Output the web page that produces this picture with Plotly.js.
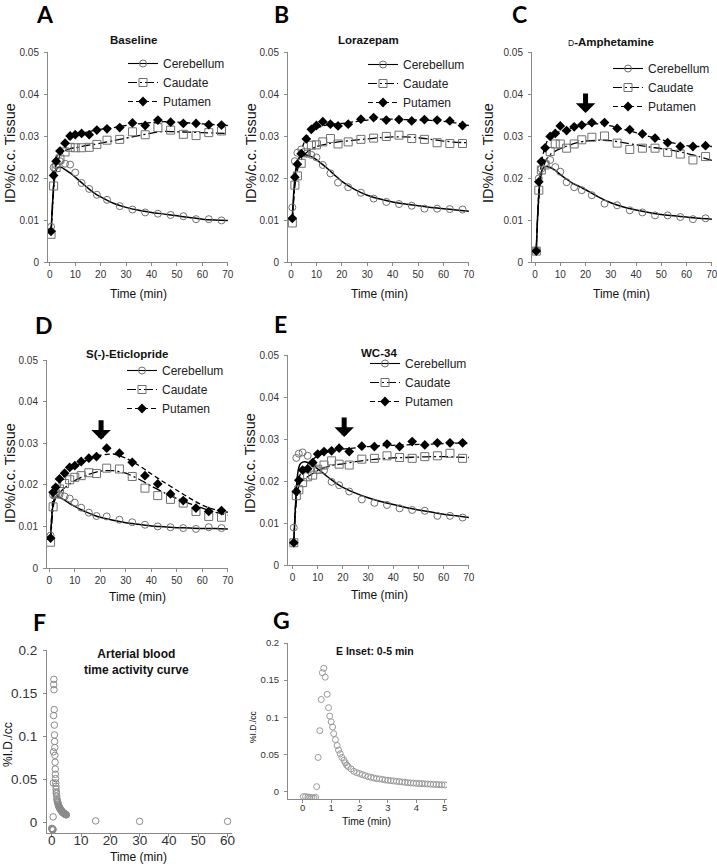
<!DOCTYPE html>
<html><head><meta charset="utf-8">
<script src="https://cdn.plot.ly/plotly-3.0.1.min.js"></script>
<style>html,body{margin:0;padding:0;background:#fff}#chart{width:717px;height:866px}</style>
</head><body><div id="chart"></div>
<script>
// ---------- DATA ----------
// PET frame mid-times (min)
const frameTimes = [0.5, 1.5, 2.5, 4, 6, 8, 10, 12.5, 15.5, 18.5, 22.5, 27.5, 32.5, 37.5, 42.5, 47.5, 52.5, 57.5, 62.5, 67.5];
// model-fit curve sample times (min)
const fitTimes = [0.5, 1, 1.5, 2, 2.5, 3, 4, 5, 6, 8, 10, 12.5, 15, 17.5, 20, 25, 30, 35, 40, 45, 50, 55, 60, 65, 70];

// A: Baseline
const baselineCerebellum = [0.0084, 0.0225, 0.023, 0.024, 0.0234, 0.0232, 0.0213, 0.0188, 0.0174, 0.016, 0.0148, 0.0133, 0.0125, 0.0118, 0.0115, 0.0112, 0.0109, 0.0102, 0.0102, 0.0099];
const baselineCaudate    = [0.0066, 0.0181, 0.0225, 0.0245, 0.0262, 0.0273, 0.0272, 0.0272, 0.0273, 0.028, 0.029, 0.0292, 0.031, 0.0303, 0.032, 0.0314, 0.0304, 0.0301, 0.0308, 0.0312];
const baselinePutamen    = [0.0073, 0.0206, 0.024, 0.0264, 0.0283, 0.03, 0.0303, 0.0306, 0.0303, 0.0314, 0.0317, 0.032, 0.0331, 0.0325, 0.0338, 0.0333, 0.033, 0.033, 0.0327, 0.0326];
const baselineFitCer = [0.007, 0.013, 0.018, 0.0205, 0.0218, 0.0224, 0.0226, 0.0224, 0.022, 0.0212, 0.0202, 0.0189, 0.0176, 0.0164, 0.0155, 0.014, 0.013, 0.0123, 0.0118, 0.0114, 0.011, 0.0106, 0.0102, 0.01, 0.0099];
const baselineFitCau = [0.007, 0.012, 0.017, 0.0205, 0.0225, 0.0238, 0.0252, 0.026, 0.0265, 0.027, 0.0272, 0.0275, 0.0278, 0.028, 0.0283, 0.0289, 0.0295, 0.0301, 0.0307, 0.0311, 0.031, 0.0309, 0.0308, 0.0307, 0.0306];
const baselineFitPut = [0.0073, 0.013, 0.0185, 0.022, 0.0243, 0.0256, 0.0271, 0.028, 0.0287, 0.0296, 0.0302, 0.0306, 0.031, 0.0313, 0.0316, 0.032, 0.0325, 0.0329, 0.0332, 0.0334, 0.0333, 0.0331, 0.0329, 0.0327, 0.0325];

// B: Lorazepam
const lorazCerebellum = [0.013, 0.024, 0.026, 0.0268, 0.0258, 0.0255, 0.0249, 0.0231, 0.0211, 0.0189, 0.0178, 0.0165, 0.0151, 0.0143, 0.0138, 0.0134, 0.0127, 0.0127, 0.0126, 0.0125];
const lorazCaudate    = [0.0093, 0.0183, 0.0205, 0.0235, 0.026, 0.0278, 0.0279, 0.0286, 0.0294, 0.0281, 0.0286, 0.0292, 0.0295, 0.0299, 0.0302, 0.0294, 0.0292, 0.0284, 0.0282, 0.0282];
const lorazPutamen    = [0.0104, 0.0202, 0.0233, 0.0258, 0.0293, 0.0316, 0.0325, 0.0334, 0.0328, 0.0324, 0.0328, 0.034, 0.0344, 0.0338, 0.0339, 0.0336, 0.0339, 0.0338, 0.0336, 0.0325];
const lorazFitCer = [0.0105, 0.016, 0.02, 0.0225, 0.0238, 0.0246, 0.0254, 0.0256, 0.0255, 0.0251, 0.0244, 0.0232, 0.0219, 0.0205, 0.0192, 0.0173, 0.0159, 0.015, 0.0143, 0.0138, 0.0134, 0.013, 0.0127, 0.0124, 0.0121];
const lorazFitCau = [0.0095, 0.0145, 0.018, 0.0203, 0.0218, 0.0229, 0.0243, 0.0253, 0.026, 0.0269, 0.0275, 0.0279, 0.0282, 0.0285, 0.0287, 0.029, 0.0293, 0.0296, 0.0298, 0.0298, 0.0296, 0.0292, 0.0288, 0.0285, 0.0284];
const lorazFitPut = [0.0105, 0.015, 0.019, 0.0215, 0.0232, 0.0245, 0.0265, 0.0282, 0.0295, 0.031, 0.0318, 0.0324, 0.0327, 0.0329, 0.033, 0.0334, 0.0338, 0.034, 0.034, 0.0339, 0.0338, 0.0337, 0.0335, 0.0331, 0.0325];

// C: D-Amphetamine
const amphCerebellum = [0.0028, 0.0199, 0.0222, 0.0236, 0.0243, 0.0226, 0.0215, 0.019, 0.0178, 0.0171, 0.0159, 0.0139, 0.0135, 0.0123, 0.0118, 0.0111, 0.0111, 0.0107, 0.0102, 0.0104];
const amphCaudate    = [0.0026, 0.0171, 0.0219, 0.0231, 0.0263, 0.0281, 0.0281, 0.0271, 0.0281, 0.0291, 0.0297, 0.03, 0.0283, 0.0268, 0.0271, 0.0271, 0.0261, 0.0257, 0.0243, 0.0251];
const amphPutamen    = [0.0026, 0.0191, 0.0239, 0.0272, 0.0299, 0.0306, 0.0324, 0.0313, 0.0322, 0.0326, 0.0332, 0.0332, 0.0318, 0.0315, 0.0305, 0.0295, 0.0284, 0.0275, 0.0275, 0.0277];
const amphFitCer = [0.003, 0.0105, 0.016, 0.0195, 0.0213, 0.0222, 0.0227, 0.0227, 0.0225, 0.0218, 0.0208, 0.0197, 0.0187, 0.018, 0.0172, 0.0155, 0.0141, 0.0131, 0.0124, 0.0118, 0.0113, 0.011, 0.0107, 0.0104, 0.0102];
const amphFitCau = [0.003, 0.01, 0.015, 0.0185, 0.0205, 0.022, 0.0238, 0.0249, 0.0256, 0.0264, 0.027, 0.0276, 0.0281, 0.0285, 0.0288, 0.029, 0.0289, 0.0284, 0.0279, 0.0274, 0.027, 0.0265, 0.0259, 0.0251, 0.0242];
const amphFitPut = [0.003, 0.011, 0.017, 0.021, 0.0235, 0.0252, 0.0275, 0.029, 0.0298, 0.0306, 0.0311, 0.0316, 0.032, 0.0325, 0.0328, 0.0329, 0.0324, 0.0316, 0.0308, 0.0299, 0.0291, 0.0283, 0.0277, 0.0275, 0.0275];

// D: S(-)-Eticlopride
const eticCerebellum = [0.0078, 0.0175, 0.018, 0.0176, 0.0172, 0.0167, 0.0157, 0.0145, 0.0133, 0.0125, 0.0124, 0.0116, 0.011, 0.0104, 0.01, 0.0098, 0.0096, 0.0094, 0.0098, 0.0096];
const eticCaudate    = [0.0062, 0.0147, 0.0178, 0.019, 0.0203, 0.0212, 0.0218, 0.0222, 0.0229, 0.0227, 0.024, 0.0238, 0.022, 0.0192, 0.0174, 0.0165, 0.0156, 0.0136, 0.0124, 0.0122];
const eticPutamen    = [0.0072, 0.0182, 0.0194, 0.0214, 0.0228, 0.0242, 0.0246, 0.0256, 0.0264, 0.0268, 0.0288, 0.0276, 0.0254, 0.0222, 0.0202, 0.0178, 0.0162, 0.0144, 0.0136, 0.0138];
const eticFitCer = [0.0075, 0.0125, 0.0155, 0.0167, 0.017, 0.0171, 0.017, 0.0167, 0.0163, 0.0155, 0.0148, 0.014, 0.0133, 0.0127, 0.0122, 0.0115, 0.0109, 0.0105, 0.0101, 0.0099, 0.0097, 0.0096, 0.0095, 0.0095, 0.0094];
const eticFitCau = [0.0065, 0.011, 0.0145, 0.016, 0.0167, 0.0172, 0.018, 0.0187, 0.0193, 0.0202, 0.021, 0.0218, 0.0224, 0.0229, 0.0233, 0.0234, 0.0228, 0.0214, 0.0197, 0.0181, 0.0167, 0.0155, 0.0144, 0.0134, 0.0127];
const eticFitPut = [0.0072, 0.0135, 0.0175, 0.0185, 0.0192, 0.0198, 0.0207, 0.0215, 0.0222, 0.0234, 0.0243, 0.0252, 0.026, 0.0266, 0.0271, 0.0274, 0.0264, 0.0247, 0.0226, 0.0206, 0.0187, 0.0168, 0.0151, 0.014, 0.0134];

// E: WC-34
const wcCerebellum = [0.0089, 0.0255, 0.0265, 0.0268, 0.026, 0.0242, 0.0226, 0.0225, 0.0198, 0.019, 0.0175, 0.0156, 0.0148, 0.0143, 0.0135, 0.0131, 0.0129, 0.0117, 0.0117, 0.0113];
const wcCaudate    = [0.0053, 0.0165, 0.0179, 0.0196, 0.021, 0.0214, 0.0228, 0.0238, 0.0248, 0.024, 0.0238, 0.0252, 0.0254, 0.026, 0.0256, 0.0254, 0.0258, 0.026, 0.0266, 0.0254];
const wcPutamen    = [0.0053, 0.0175, 0.0202, 0.0226, 0.0229, 0.0244, 0.0264, 0.027, 0.0272, 0.0278, 0.027, 0.0283, 0.0282, 0.0288, 0.0282, 0.0294, 0.0286, 0.0291, 0.0291, 0.0291];
const wcFitCer = [0.0055, 0.012, 0.018, 0.0215, 0.0232, 0.024, 0.0245, 0.0246, 0.0244, 0.0238, 0.0229, 0.0217, 0.0205, 0.0194, 0.0185, 0.0171, 0.016, 0.0151, 0.0144, 0.0137, 0.0131, 0.0126, 0.0121, 0.0117, 0.0113];
const wcFitCau = [0.0055, 0.011, 0.015, 0.0175, 0.0188, 0.0195, 0.0202, 0.0206, 0.021, 0.0218, 0.0225, 0.0231, 0.0236, 0.0239, 0.0241, 0.0246, 0.025, 0.0253, 0.0255, 0.0256, 0.0257, 0.0258, 0.0258, 0.0257, 0.0256];
const wcFitPut = [0.0055, 0.0125, 0.0165, 0.0192, 0.0207, 0.0215, 0.0226, 0.0234, 0.024, 0.0251, 0.026, 0.0266, 0.0271, 0.0274, 0.0276, 0.0279, 0.0282, 0.0284, 0.0285, 0.0286, 0.0287, 0.0288, 0.0289, 0.029, 0.0289];

// F/G: arterial blood time-activity curve
const bloodTime = [0.02, 0.1, 0.18, 0.25, 0.32, 0.39, 0.45,
  0.49, 0.54, 0.6, 0.65, 0.69, 0.74, 0.79, 0.86, 0.91, 0.95, 1.0, 1.05, 1.09, 1.15, 1.21, 1.26, 1.32, 1.38,
  1.45, 1.5, 1.55, 1.6, 1.7, 1.8, 1.9, 2.0, 2.1, 2.2, 2.3, 2.4, 2.5, 2.6, 2.7, 2.8, 2.9, 3.0,
  3.1, 3.2, 3.3, 3.4, 3.5, 3.6, 3.7, 3.8, 3.9, 4.0, 4.1, 4.2, 4.3, 4.4, 4.5, 4.6, 4.7, 4.8, 4.9, 5.0,
  15, 30, 60];
const bloodValue = [-0.0067, -0.0068, -0.0072, -0.0076, -0.0081, -0.0085, -0.0076,
  0.0067, 0.046, 0.082, 0.124, 0.16, 0.166, 0.154, 0.131, 0.113, 0.1016, 0.094, 0.087, 0.078, 0.070, 0.062, 0.056, 0.051, 0.046,
  0.0422, 0.0387, 0.0355, 0.0337, 0.0306, 0.0274, 0.0256, 0.0243, 0.0229, 0.0216, 0.0202, 0.0193, 0.0184, 0.0175, 0.0171, 0.0166, 0.0157, 0.0153,
  0.0148, 0.0144, 0.0139, 0.0135, 0.013, 0.0126, 0.0121, 0.0117, 0.0115, 0.0112, 0.011, 0.0108, 0.0105, 0.0103, 0.01, 0.0098, 0.0096, 0.0094, 0.0092, 0.009,
  0.002, 0.0015, 0.0015];

// arrows marking drug challenge (time, value at arrow tip)
const arrowTime  = {C: 20, D: 20.3, E: 20.5};
const arrowValue = {C: 0.0355, D: 0.0308, E: 0.0305};

const regionNames = ['Cerebellum', 'Caudate', 'Putamen'];
const panelTitles = ['Baseline', 'Lorazepam', '<span style="font-size:8.5px;font-weight:normal">D</span>-Amphetamine', 'S(-)-Eticlopride', 'WC-34'];

// ---------- STYLE / LAYOUT ----------
const W = 717, H = 866;
const FONT = 'Liberation Sans, Arial, sans-serif';
const px = (x, y) => ({x: x / W, y: 1 - y / H, xref: 'paper', yref: 'paper'});
const dx = (a, b) => [a / W, b / W];
const dy = (top, bot) => [1 - bot / H, 1 - top / H];

const tissuePanels = [
  {pts: [baselineCerebellum, baselineCaudate, baselinePutamen], fit: [baselineFitCer, baselineFitCau, baselineFitPut],
   bx: [48, 228], by: [52, 262], xr: [-0.7, 70.05], leg: [123, 49]},
  {pts: [lorazCerebellum, lorazCaudate, lorazPutamen], fit: [lorazFitCer, lorazFitCau, lorazFitPut],
   bx: [288, 469], by: [52, 262], xr: [-1.2, 70.05], leg: [363, 50]},
  {pts: [amphCerebellum, amphCaudate, amphPutamen], fit: [amphFitCer, amphFitCau, amphFitPut],
   bx: [532, 712], by: [52, 262], xr: [-1.2, 70.05], leg: [608, 54]},
  {pts: [eticCerebellum, eticCaudate, eticPutamen], fit: [eticFitCer, eticFitCau, eticFitPut],
   bx: [47, 228], by: [360, 568], xr: [-0.9, 70.05], leg: [122, 356]},
  {pts: [wcCerebellum, wcCaudate, wcPutamen], fit: [wcFitCer, wcFitCau, wcFitPut],
   bx: [288, 469], by: [355, 565], xr: [-1.8, 70.05], leg: [365, 349]}
];

const markerStyles = [
  {symbol: 'circle-open', size: 7, color: '#707070', line: {width: 1}},
  {symbol: 'square-open', size: 8, color: '#707070', line: {width: 1}},
  {symbol: 'diamond', size: 7.5, color: '#000000'}
];
const lineStyles = [
  {color: '#000', width: 1.5, dash: 'solid'},
  {color: '#000', width: 1.3, dash: '9px,3px,2px,3px'},
  {color: '#000', width: 1.3, dash: '5px,3px'}
];

const traces = [];
const layout = {
  width: W, height: H, margin: {l: 0, r: 0, t: 0, b: 0},
  paper_bgcolor: '#fff', plot_bgcolor: 'rgba(0,0,0,0)',
  showlegend: true, font: {family: FONT, color: '#222'},
  annotations: []
};

const axisBase = {
  showgrid: false, zeroline: false, showline: true, linecolor: '#8a8a8a', linewidth: 1,
  ticks: 'outside', ticklen: 3, tickcolor: '#8a8a8a', tickwidth: 1, ticklabeloverflow: 'allow',
  tickfont: {family: FONT, size: 10, color: '#333'}, fixedrange: true
};

tissuePanels.forEach((p, i) => {
  const n = i + 1;
  const xa = n === 1 ? 'x' : 'x' + n, ya = n === 1 ? 'y' : 'y' + n;
  const xk = n === 1 ? 'xaxis' : 'xaxis' + n, yk = n === 1 ? 'yaxis' : 'yaxis' + n;
  const lg = n === 1 ? 'legend' : 'legend' + n;
  layout[xk] = Object.assign({}, axisBase, {domain: dx(p.bx[0], p.bx[1]), range: p.xr, anchor: ya, tick0: 0, dtick: 10});
  layout[yk] = Object.assign({}, axisBase, {domain: dy(p.by[0], p.by[1]), range: [0, 0.05], anchor: xa, tick0: 0, dtick: 0.01, ticklabelstandoff: 3});
  layout[lg] = {x: p.leg[0] / W, y: 1 - p.leg[1] / H, xanchor: 'left', yanchor: 'top',
    bgcolor: 'rgba(0,0,0,0)', borderwidth: 0, itemwidth: 30, tracegroupgap: 0,
    font: {family: FONT, size: 12, color: '#222'}};
  for (let r = 0; r < 3; r++) {
    traces.push({type: 'scatter', mode: 'lines', x: fitTimes, y: p.fit[r], xaxis: xa, yaxis: ya,
      line: Object.assign({shape: 'spline', smoothing: 0.6}, lineStyles[r]), showlegend: false, hoverinfo: 'skip'});
  }
  for (let r = 0; r < 3; r++) {
    traces.push({type: 'scatter', mode: 'markers', x: frameTimes, y: p.pts[r], xaxis: xa, yaxis: ya,
      marker: markerStyles[r], showlegend: false, name: regionNames[r]});
  }
  for (let r = 0; r < 3; r++) {
    traces.push({type: 'scatter', mode: 'lines+markers', x: [null], y: [null], xaxis: xa, yaxis: ya,
      name: regionNames[r], legend: lg, showlegend: true,
      marker: markerStyles[r], line: Object.assign({}, lineStyles[r], {width: 1.1})});
  }
});

// F: full blood curve
layout.xaxis6 = Object.assign({}, axisBase, {domain: dx(47, 232), range: [-1.6, 61.5], anchor: 'y6', tick0: 0, dtick: 10,
  tickfont: {family: FONT, size: 13.5, color: '#333'}, ticklabelstandoff: -8});
layout.yaxis6 = Object.assign({}, axisBase, {domain: dy(650, 833), range: [-0.012, 0.2], anchor: 'x6', tick0: 0, dtick: 0.05,
  tickfont: {family: FONT, size: 13.5, color: '#333'}, ticklabelstandoff: 3});
traces.push({type: 'scatter', mode: 'markers', x: bloodTime, y: bloodValue, xaxis: 'x6', yaxis: 'y6', showlegend: false,
  name: 'Arterial blood', marker: {symbol: 'circle-open', size: 6.5, color: '#8a8a8a', line: {width: 1}}});

// G: 0-5 min inset
layout.xaxis7 = Object.assign({}, axisBase, {domain: dx(288, 447), range: [-0.52, 5.08], anchor: 'y7', tick0: 0, dtick: 1,
  tickfont: {family: FONT, size: 9.5, color: '#333'}, ticklabelstandoff: -3});
layout.yaxis7 = Object.assign({}, axisBase, {domain: dy(643, 799), range: [-0.0099, 0.2], anchor: 'x7', tick0: 0, dtick: 0.05,
  tickfont: {family: FONT, size: 9.5, color: '#333'}, ticklabelstandoff: 3});
traces.push({type: 'scatter', mode: 'markers', x: bloodTime, y: bloodValue, xaxis: 'x7', yaxis: 'y7', showlegend: false,
  name: 'Arterial blood 0-5 min', marker: {symbol: 'circle-open', size: 6, color: '#9a9a9a', line: {width: 1}}});

// ---------- TEXT ----------
const ann = (x, y, text, size, extra) => layout.annotations.push(Object.assign(px(x, y),
  {text: text, showarrow: false, xanchor: 'center', yanchor: 'middle', font: {family: FONT, size: size, color: '#111'}}, extra || {}));

// panel letters
const letters = [['A', 45, 14], ['B', 281, 14], ['C', 519, 14], ['D', 44, 325], ['E', 280, 324], ['F', 39, 622], ['G', 281, 620]];
letters.forEach(l => ann(l[1], l[2], '<b>' + l[0] + '</b>', 23, {font: {family: 'Lato, Open Sans, sans-serif', size: 23, color: '#000'}}));

// panel titles
const titlePos = [[133, 40], [368, 40], [611, 42], [127, 354], [379, 353]];
panelTitles.forEach((t, i) => ann(titlePos[i][0], titlePos[i][1], '<b>' + t + '</b>', 11.5));
ann(136, 662, '<b>Arterial blood<br>time activity curve</b>', 12);
ann(375, 651, '<b>E Inset: 0-5 min</b>', 10.5);

// axis titles
[[138, 294], [379, 294], [621, 294], [137, 597], [379, 595]].forEach(p => ann(p[0], p[1], 'Time (min)', 12));
ann(138, 857, 'Time (min)', 12);
ann(367, 821, 'Time (min)', 10.3);
[[10, 153], [251, 153], [488, 153], [10, 473], [250, 463]].forEach(p => ann(p[0], p[1], 'ID%/c.c. Tissue', 14.5, {textangle: -90}));
ann(8, 745, '%I.D./cc', 12, {textangle: -90});
ann(253, 727, '%I.D./cc', 8.5, {textangle: -90});

// arrows
[['C', 'x3', 'y3'], ['D', 'x4', 'y4'], ['E', 'x5', 'y5']].forEach(a => {
  layout.annotations.push({x: arrowTime[a[0]], y: arrowValue[a[0]], xref: a[1], yref: a[2], text: '',
    showarrow: true, ax: 0, ay: -21, arrowhead: 1, arrowwidth: 5, arrowsize: 0.65, arrowcolor: '#000', standoff: 0});
});

Plotly.newPlot('chart', traces, layout, {displayModeBar: false, staticPlot: true});
</script></body></html>
